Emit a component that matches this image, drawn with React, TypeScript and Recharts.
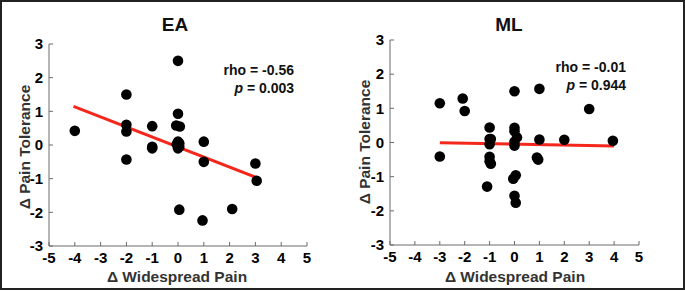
import React from "react";
import { ScatterChart, Scatter, XAxis, YAxis, ReferenceLine } from "recharts";

// tick labels
const xTicks = [-5, -4, -3, -2, -1, 0, 1, 2, 3, 4, 5];
const yTicks = [-3, -2, -1, 0, 1, 2, 3];

// EA panel
const eaX = [-4, -2, -2, -2, -2, -1, -1, -1, 0, 0, -0.07, 0.07, 0, -0.05, 0.05, 0, 0.05, 1, 1, 0.05, 0.95, 2.1, 3, 3.05];
const eaY = [0.42, 1.5, 0.6, 0.4, -0.43, 0.56, -0.05, -0.1, 2.5, 0.93, 0.58, 0.55, 0.1, 0.02, 0.05, -0.1, -0.05, 0.1, -0.5, -1.92, -2.24, -1.9, -0.55, -1.06];
const eaFitX = [-4.05, 3.05];
const eaFitY = [1.15, -0.97];

// ML panel
const mlX = [-3, -3, -2.08, -2, -1, -0.95, -1, -1, -1, -1, -0.95, -1.1, 0, 0, 0, 0.1, 0, 0, -0.05, 0.05, 0, 0.05, 1, 1, 0.9, 0.95, 2, 3, 3.95];
const mlY = [1.15, -0.41, 1.29, 0.92, 0.44, 0.1, 0.1, -0.05, -0.42, -0.55, -0.62, -1.29, 1.5, 0.43, 0.33, 0.15, 0.02, -0.09, -1.06, -0.96, -1.56, -1.76, 1.57, 0.09, -0.44, -0.5, 0.08, 0.98, 0.05];
const mlFitX = [-3, 4];
const mlFitY = [-0.01, -0.1];

const FONT = "'Liberation Sans', Arial, sans-serif";
const AXIS = "#6b6b6b";
const RED = "#f5261b";

const zip = (xs: number[], ys: number[]) => xs.map((x, i) => ({ x, y: ys[i] }));

const Dot = (p: any) => <circle cx={p.cx} cy={p.cy} r={5.3} fill="#000" />;

const tickStyle = { fill: "#000", fontSize: 15, fontWeight: 700, fontFamily: FONT };

function Panel({ left, width, top, right, yw, xh, xs, ys, fx, fy }: any) {
    return (
        <div style={{ position: "absolute", left, top: 0 }}>
            <ScatterChart width={width} height={291} margin={{ top, right, left: 0, bottom: 0 }}>
                <XAxis type="number" dataKey="x" domain={[-5, 5]} ticks={xTicks} height={xh}
                    stroke={AXIS} tickSize={-4} tickMargin={10} tick={tickStyle} interval={0} />
                <YAxis type="number" dataKey="y" domain={[-3, 3]} ticks={yTicks} width={yw}
                    stroke={AXIS} tickSize={-4} tickMargin={10} tick={tickStyle} interval={0} />
                <Scatter data={zip(xs, ys)} shape={Dot} isAnimationActive={false} />
                <ReferenceLine segment={zip(fx, fy)} stroke={RED} strokeWidth={3} />
            </ScatterChart>
        </div>
    );
}

const center = (x: number, y: number, extra: any = {}): React.CSSProperties => ({
    position: "absolute", left: x, top: y, transform: "translate(-50%,-50%)", whiteSpace: "nowrap", ...extra,
});

const stat = (right: number, y: number): React.CSSProperties => ({
    position: "absolute", right: 685 - right, top: y, transform: "translateY(-50%)", fontSize: 14,
    fontWeight: 700, whiteSpace: "nowrap", color: "#111",
});

export default function App() {
    const title = { fontSize: 19, fontWeight: 700, color: "#111" };
    const axisTitle = { fontSize: 15.5, fontWeight: 700, color: "#333" };
    return (
        <div style={{ position: "absolute", left: 0, top: 0, width: 685, height: 291, background: "#fff", fontFamily: FONT }}>
            <Panel left={0} width={340} top={44} right={33} yw={49} xh={45} xs={eaX} ys={eaY} fx={eaFitX} fy={eaFitY} />
            <Panel left={340} width={345} top={40} right={46} yw={50} xh={46} xs={mlX} ys={mlY} fx={mlFitX} fy={mlFitY} />

            <div style={center(175, 25, title)}>EA</div>
            <div style={center(509, 25, title)}>ML</div>

            <div style={center(177, 277, axisTitle)}>Δ Widespread Pain</div>
            <div style={center(515, 277, axisTitle)}>Δ Widespread Pain</div>
            <div style={center(25, 147, { ...axisTitle, transform: "translate(-50%,-50%) rotate(-90deg)" })}>Δ Pain Tolerance</div>
            <div style={center(365, 142, { ...axisTitle, transform: "translate(-50%,-50%) rotate(-90deg)" })}>Δ Pain Tolerance</div>

            <div style={stat(294, 70)}>rho = -0.56</div>
            <div style={stat(294, 88)}><i>p</i> = 0.003</div>
            <div style={stat(626, 67)}>rho = -0.01</div>
            <div style={stat(626, 85)}><i>p</i> = 0.944</div>

            <div style={{ position: "absolute", left: 0, top: 0, width: 685, height: 290, border: "2px solid #222", boxSizing: "border-box", pointerEvents: "none" }} />
        </div>
    );
}
